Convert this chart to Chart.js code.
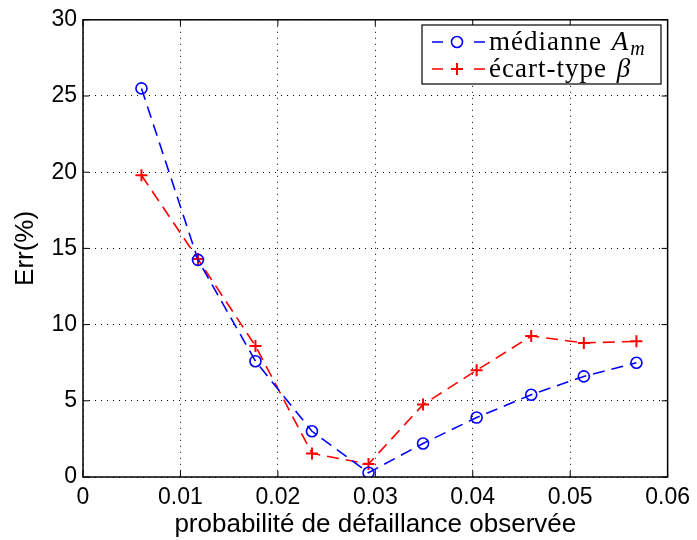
<!DOCTYPE html>
<html>
<head>
<meta charset="utf-8">
<script src="https://cdn.jsdelivr.net/npm/chart.js@4"></script>
<style>
  html, body { margin: 0; padding: 0; background: #fff; }
  #wrap { width: 697px; height: 540px; }
</style>
</head>
<body>
<div id="wrap"><canvas id="errChart" width="697" height="540"></canvas></div>
<script>
// values
const probObs = [0.0060, 0.0118, 0.0177, 0.0235, 0.0293, 0.0349, 0.0404, 0.0460, 0.0514, 0.0568]
const errMediane = [25.5, 14.25, 7.6, 3.0, 0.28, 2.2, 3.9, 5.4, 6.6, 7.5]
const errEcart = [19.8, 14.3, 8.6, 1.55, 0.85, 4.75, 7.0, 9.25, 8.8, 8.9]
const xTicks = [0, 0.01, 0.02, 0.03, 0.04, 0.05, 0.06]
const yTicks = [0, 5, 10, 15, 20, 25, 30]
const xTickLabels = ['0', '0.01', '0.02', '0.03', '0.04', '0.05', '0.06']
const legendLabels = ['médianne', 'écart-type']

const sans = '"Liberation Sans", Arial, Helvetica, sans-serif'
const serif = '"Liberation Serif", "DejaVu Serif", serif'

// matlab-like box with inward ticks
const boxPlugin = {
  id: 'box',
  afterDraw(chart) {
    const ctx = chart.ctx
    const a = chart.chartArea
    const xs = chart.scales.x, ys = chart.scales.y
    ctx.save()
    ctx.strokeStyle = '#000'
    ctx.lineWidth = 1.5
    ctx.strokeRect(a.left, a.top, a.right - a.left, a.bottom - a.top)
    ctx.lineWidth = 1
    const t = 6
    ctx.beginPath()
    xTicks.forEach(v => {
      const px = xs.getPixelForValue(v)
      ctx.moveTo(px, a.bottom); ctx.lineTo(px, a.bottom - t)
      ctx.moveTo(px, a.top); ctx.lineTo(px, a.top + t)
    })
    yTicks.forEach(v => {
      const py = ys.getPixelForValue(v)
      ctx.moveTo(a.left, py); ctx.lineTo(a.left + t, py)
      ctx.moveTo(a.right, py); ctx.lineTo(a.right - t, py)
    })
    ctx.stroke()
    ctx.restore()
  }
}

function drawMarker(ctx, style, x, y, color) {
  ctx.strokeStyle = color
  ctx.beginPath()
  if (style === 'circle') {
    ctx.lineWidth = 1.6
    ctx.arc(x, y, 5.5, 0, Math.PI * 2)
  } else {
    ctx.lineWidth = 2
    ctx.moveTo(x - 6, y); ctx.lineTo(x + 6, y)
    ctx.moveTo(x, y - 6); ctx.lineTo(x, y + 6)
  }
  ctx.stroke()
}

const legendPlugin = {
  id: 'mlegend',
  afterDraw(chart) {
    const ctx = chart.ctx
    const bx = 422, by = 25, bw = 239, bh = 59
    ctx.save()
    ctx.fillStyle = '#fff'
    ctx.fillRect(bx, by, bw, bh)
    ctx.strokeStyle = '#000'
    ctx.lineWidth = 1.2
    ctx.strokeRect(bx, by, bw, bh)
    chart.data.datasets.forEach((ds, i) => {
      const y = 42 + i * 27
      ctx.strokeStyle = ds.borderColor
      ctx.lineWidth = 1.6
      ctx.setLineDash([])
      ctx.beginPath()
      ctx.moveTo(432, y); ctx.lineTo(443, y)
      ctx.moveTo(474, y); ctx.lineTo(485, y)
      ctx.stroke()
      drawMarker(ctx, ds.pointStyle === 'circle' ? 'circle' : 'cross', 457, y, ds.borderColor)
      ctx.fillStyle = '#000'
      ctx.textBaseline = 'middle'
      ctx.textAlign = 'left'
      ctx.letterSpacing = '1px'
      ctx.font = '27px ' + serif
      let x = 489
      const txt = legendLabels[i] + ' '
      ctx.fillText(txt, x, y + 1)
      x += ctx.measureText(txt).width + 2
      ctx.font = 'italic 27px ' + serif
      if (i === 0) {
        ctx.fillText('A', x, y + 1)
        x += ctx.measureText('A').width + 1
        ctx.font = 'italic 20px ' + serif
        ctx.fillText('m', x, y + 8)
      } else {
        ctx.fillText('β', x, y + 1)
      }
    })
    ctx.restore()
  }
}

new Chart('errChart', {
  type: 'line',
  data: {
    datasets: [{
      label: 'médianne A_m',
      data: probObs.map((x, i) => ({x: x, y: errMediane[i]})),
      borderColor: '#0000ff',
      backgroundColor: 'rgba(0,0,0,0)',
      borderWidth: 1.6,
      borderDash: [12, 7],
      pointStyle: 'circle',
      pointRadius: 5.5,
      pointBorderWidth: 1.6,
      pointBackgroundColor: 'rgba(0,0,0,0)',
      pointBorderColor: '#0000ff',
      fill: false,
      tension: 0
    }, {
      label: 'écart-type β',
      data: probObs.map((x, i) => ({x: x, y: errEcart[i]})),
      borderColor: '#ff0000',
      backgroundColor: 'rgba(0,0,0,0)',
      borderWidth: 1.6,
      borderDash: [12, 7],
      pointStyle: 'cross',
      pointRadius: 6,
      pointBorderWidth: 2,
      pointBorderColor: '#ff0000',
      fill: false,
      tension: 0
    }]
  },
  options: {
    responsive: false,
    animation: false,
    devicePixelRatio: 1,
    layout: { padding: { top: 16, right: 29, left: 0, bottom: 0 } },
    plugins: {
      legend: { display: false },
      tooltip: { enabled: false }
    },
    scales: {
      x: {
        type: 'linear',
        min: 0,
        max: 0.06,
        afterBuildTicks: s => { s.ticks = xTicks.map(v => ({value: v})) },
        afterFit: s => { s.height = 63 },
        ticks: {
          color: '#000',
          font: { family: sans, size: 23 },
          padding: 7,
          maxRotation: 0,
          callback: (v, i) => xTickLabels[i]
        },
        grid: { color: '#000', lineWidth: 1, drawTicks: false },
        border: { display: false, dash: [1, 5] },
        title: {
          display: true,
          text: 'probabilité de défaillance observée',
          color: '#000',
          font: { family: sans, size: 26 },
          padding: { top: 0, bottom: 0 }
        }
      },
      y: {
        min: 0,
        max: 30,
        afterBuildTicks: s => { s.ticks = yTicks.map(v => ({value: v})) },
        afterFit: s => { s.width = 83 },
        ticks: {
          color: '#000',
          font: { family: sans, size: 23 },
          padding: 6
        },
        grid: { color: '#000', lineWidth: 1, drawTicks: false },
        border: { display: false, dash: [1, 5] },
        title: {
          display: true,
          text: 'Err(%)',
          color: '#000',
          font: { family: sans, size: 26 },
          padding: { top: 10, bottom: 0 }
        }
      }
    }
  },
  plugins: [boxPlugin, legendPlugin]
})
</script>
</body>
</html>
